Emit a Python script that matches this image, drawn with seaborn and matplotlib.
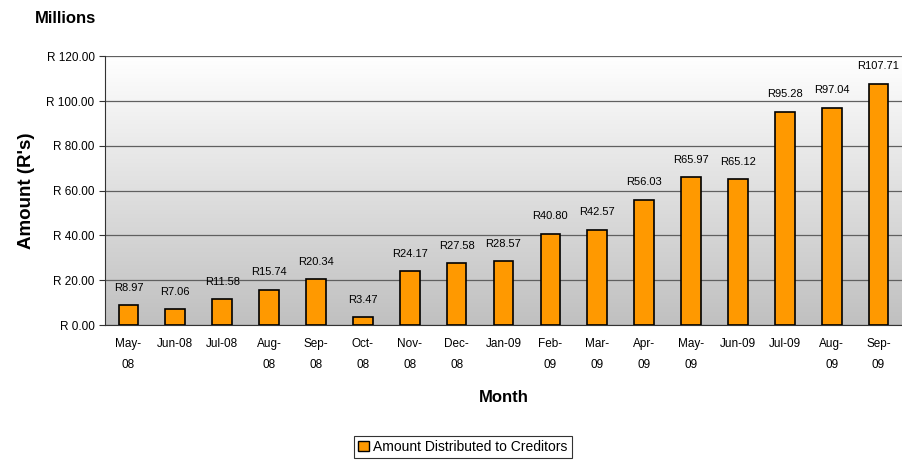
import numpy as np
import pandas as pd
import seaborn as sns
import matplotlib.pyplot as plt
from matplotlib.colors import LinearSegmentedColormap
from matplotlib.patches import Patch
from matplotlib.ticker import FuncFormatter, FixedLocator

# data
months = ["May-\n08", "Jun-08", "Jul-08", "Aug-\n08", "Sep-\n08", "Oct-\n08",
          "Nov-\n08", "Dec-\n08", "Jan-09", "Feb-\n09", "Mar-\n09", "Apr-\n09",
          "May-\n09", "Jun-09", "Jul-09", "Aug-\n09", "Sep-\n09"]
amounts = [8.97, 7.06, 11.58, 15.74, 20.34, 3.47, 24.17, 27.58, 28.57, 40.80,
           42.57, 56.03, 65.97, 65.12, 95.28, 97.04, 107.71]
series_name = "Amount Distributed to Creditors"

sns.set_style("white")
plt.rcParams["font.family"] = ["Liberation Sans", "DejaVu Sans"]
plt.rcParams["text.color"] = "black"
plt.rcParams["xtick.color"] = "black"
plt.rcParams["ytick.color"] = "black"
plt.rcParams["axes.labelcolor"] = "black"

df = pd.DataFrame({"month": months, "amount": amounts})

fig = plt.figure(figsize=(9.02, 4.65), dpi=100)
ax = fig.add_axes([0.1164, 0.301, 0.8836, 0.578])

# gradient plot area: white at top to grey at bottom
grad = np.linspace(0, 1, 256).reshape(-1, 1)
ax.imshow(grad, cmap=LinearSegmentedColormap.from_list("bg", ["#ffffff", "#c0c0c0"]),
          aspect="auto", origin="upper",
          extent=[-0.5, len(months) - 0.5, 0, 120], zorder=0)

sns.barplot(data=df, x="month", y="amount", color="#ff9900", edgecolor="black",
            linewidth=1.2, width=0.42, saturation=1, ax=ax, zorder=3)

ax.set_xlim(-0.5, len(months) - 0.5)
ax.set_ylim(0, 120)
ax.set_yticks(range(0, 121, 20))
ax.yaxis.set_major_formatter(FuncFormatter(lambda v, p: f"R {v:.2f}"))
ax.grid(axis="y", color="#606060", linewidth=0.9)
for gl in ax.get_ygridlines():
    gl.set_zorder(1)

# ticks between categories like the original
ax.xaxis.set_minor_locator(FixedLocator(np.arange(-0.5, len(months), 1.0)))
ax.tick_params(axis="x", which="major", length=0, labelsize=8.5, pad=9)
ax.tick_params(axis="x", which="minor", length=4, width=0.8, color="#333333")
ax.tick_params(axis="y", length=4, width=0.8, labelsize=8.5, left=True,
               color="#333333")
for lab in ax.get_xticklabels():
    lab.set_linespacing(2.0)

for s in ["top", "right"]:
    ax.spines[s].set_visible(False)
ax.spines["left"].set_color("#333333")
ax.spines["bottom"].set_color("#333333")

for i, v in enumerate(amounts):
    ax.text(i, v + 5.5, f"R{v:.2f}", ha="center", va="bottom", fontsize=8,
            zorder=4)

ax.set_xlabel("Month", fontsize=12, fontweight="bold", labelpad=14)
ax.set_ylabel("Amount (R's)", fontsize=13.5, fontweight="bold", labelpad=8)
fig.text(0.039, 0.96, "Millions", fontsize=12, fontweight="bold", va="center")

handle = Patch(facecolor="#ff9900", edgecolor="black", linewidth=1)
leg = fig.legend([handle], [series_name], loc="center",
                 bbox_to_anchor=(0.513, 0.039), fontsize=10, frameon=True,
                 fancybox=False, edgecolor="black", handlelength=0.8,
                 handleheight=0.8, handletextpad=0.3, borderpad=0.3)
leg.get_frame().set_linewidth(0.8)

fig.savefig("out.png", dpi=100)
